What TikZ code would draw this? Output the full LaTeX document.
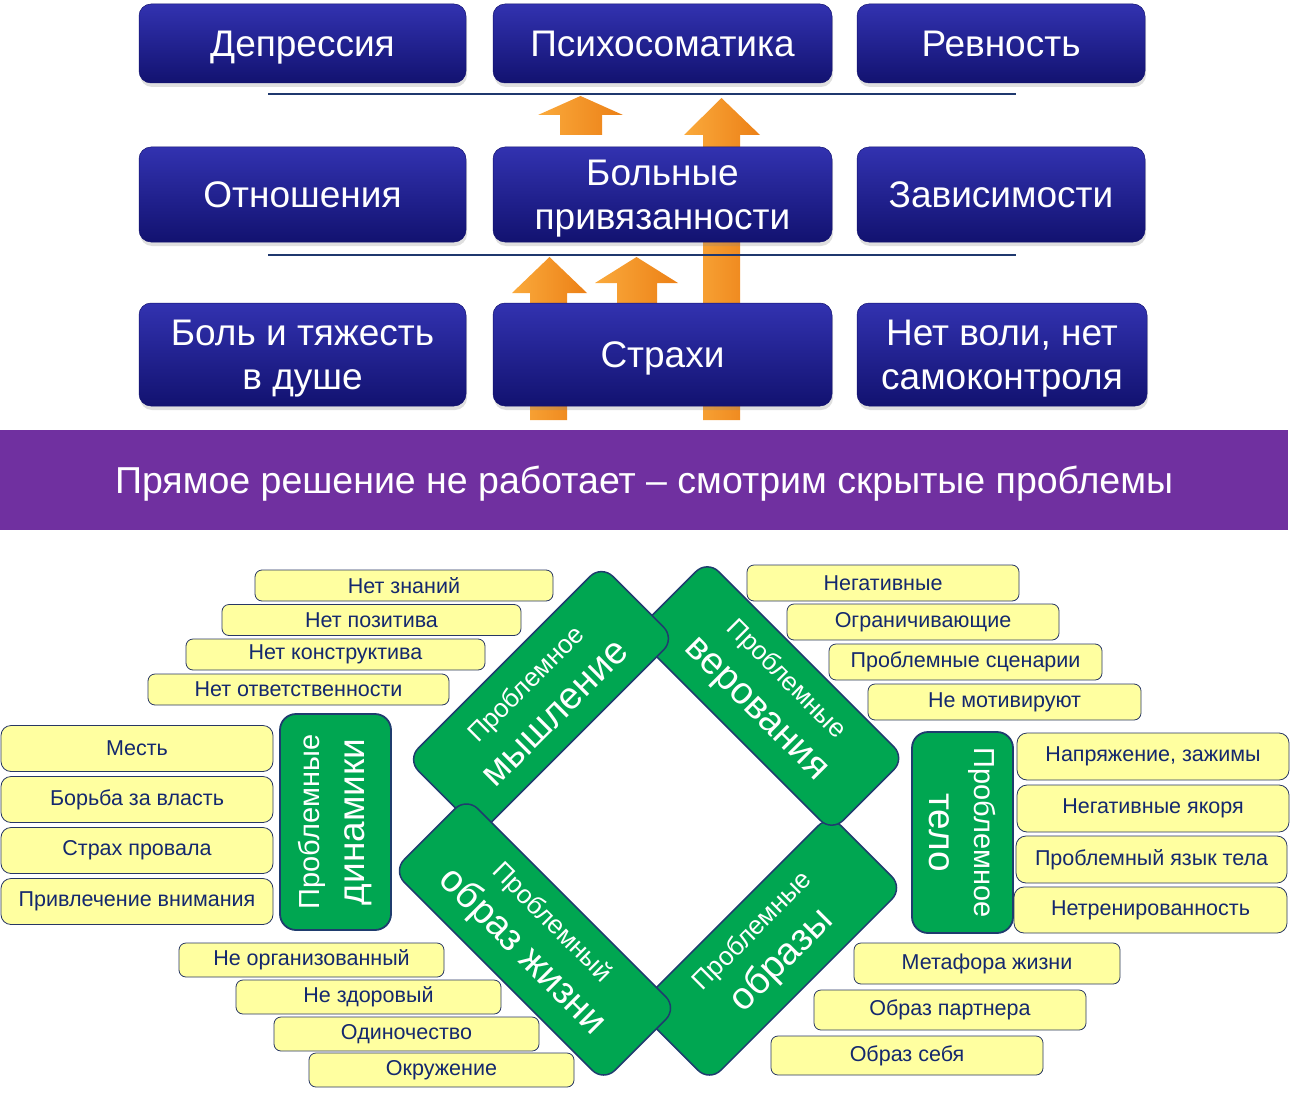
\documentclass[tikz,border=0pt]{standalone}
\usepackage{fontspec}
\setmainfont{Liberation Sans}
\usetikzlibrary{shadows}
\definecolor{bTop}{RGB}{50,50,176}
\definecolor{bBot}{RGB}{18,18,112}
\definecolor{navyline}{RGB}{31,56,110}
\definecolor{purp}{RGB}{112,48,160}
\definecolor{grn}{RGB}{0,166,81}
\definecolor{gbord}{RGB}{31,60,110}
\definecolor{yfill}{RGB}{255,255,160}
\definecolor{ybord}{RGB}{40,55,100}
\definecolor{ytext}{RGB}{20,40,110}
\definecolor{orL}{RGB}{250,170,60}
\definecolor{orR}{RGB}{236,128,22}
\begin{document}
\begin{tikzpicture}[x=1pt,y=-1pt,
  bluebox/.style={rounded corners=12pt, top color=bTop, bottom color=bBot, draw=bBot, line width=0.5pt,
    text=white, font=\fontsize{37pt}{44pt}\selectfont, align=center, inner sep=0pt, text depth=-2pt,
    drop shadow={shadow xshift=1pt, shadow yshift=-4pt, opacity=0.25}},
  ybox/.style={draw=ybord, fill=yfill, line width=0.8pt, rounded corners=7pt, text=ytext,
    font=\fontsize{21.5pt}{24pt}\selectfont, inner sep=0pt},
  gbox/.style={draw=gbord, fill=grn, line width=1.5pt, rounded corners=16pt, text=white,
    align=center, inner sep=0pt, font=\fontsize{38pt}{44pt}\selectfont},
  gvert/.style={draw=gbord, fill=grn, line width=1.8pt, rounded corners=16pt, text=white,
    align=center, inner sep=0pt, font=\fontsize{37pt}{45pt}\selectfont},
  sepline/.style={draw=navyline, line width=2pt},
  blockarrow/.style={left color=orL, right color=orR}
]
\useasboundingbox (0,0) rectangle (1290,1097);

% block arrows (behind the boxes)
\shade[blockarrow] (703,420) -- (703,135) -- (684,135) -- (721.5,98) -- (760,135) -- (740,135) -- (740,420) -- cycle;
\shade[blockarrow] (530,420) -- (530,293) -- (512,293) -- (549.5,257) -- (587,293) -- (567,293) -- (567,420) -- cycle;
\shade[blockarrow] (617,310) -- (617,283) -- (595,283) -- (636.5,257) -- (678,283) -- (657,283) -- (657,310) -- cycle;
\shade[blockarrow] (560,135) -- (560,115) -- (538,115) -- (580.5,96) -- (623,115) -- (602,115) -- (602,135) -- cycle;

% separator lines
\coordinate (s1a) at (268,94); \coordinate (s1b) at (1016,94);
\coordinate (s2a) at (268,255); \coordinate (s2b) at (1016,255);
\draw[sepline] (s1a) -- (s1b);
\draw[sepline] (s2a) -- (s2b);

% blue boxes
\node[bluebox, minimum width=327pt, minimum height=79pt] (dep) at (302.5,43.5) {Депрессия};
\node[bluebox, minimum width=339pt, minimum height=79pt] (psy) at (662.5,43.5) {Психосоматика};
\node[bluebox, minimum width=288pt, minimum height=79pt] (rev) at (1001,43.5) {Ревность};
\node[bluebox, minimum width=327pt, minimum height=95pt] (otn) at (302.5,194.5) {Отношения};
\node[bluebox, minimum width=339pt, minimum height=95pt] (bol) at (662.5,194.5) {Больные\\привязанности};
\node[bluebox, minimum width=288pt, minimum height=95pt] (zav) at (1001,194.5) {Зависимости};
\node[bluebox, minimum width=327pt, minimum height=103pt] (pain) at (302.5,354.5) {Боль и тяжесть\\в душе};
\node[bluebox, minimum width=339pt, minimum height=103pt] (fear) at (662.5,354.5) {Страхи};
\node[bluebox, minimum width=290pt, minimum height=103pt] (will) at (1002,354.5) {Нет воли, нет\\самоконтроля};

% purple band
\node[fill=purp, text=white, inner sep=0pt, minimum width=1288pt, minimum height=100pt, text depth=0pt,
  font=\fontsize{37.5pt}{40pt}\selectfont] (band) at (644,480) {Прямое решение не работает – смотрим скрытые проблемы};

% yellow boxes, left top
\node[ybox, minimum width=298pt, minimum height=31pt] (k1) at (404,585.5) {Нет знаний};
\node[ybox, minimum width=299pt, minimum height=31pt] (k2) at (371.5,620) {Нет позитива};
\node[ybox, minimum width=299pt, minimum height=31pt] (k3) at (335.5,654.5) {Нет конструктива};
\node[ybox, minimum width=301pt, minimum height=31pt] (k4) at (298.5,689.5) {Нет ответственности};
% left middle
\node[ybox, rounded corners=10pt, minimum width=272pt, minimum height=46pt] (d1) at (137,748.5) {Месть};
\node[ybox, rounded corners=10pt, minimum width=272pt, minimum height=46pt] (d2) at (137,799.5) {Борьба за власть};
\node[ybox, rounded corners=10pt, minimum width=272pt, minimum height=46pt] (d3) at (137,850.5) {Страх провала};
\node[ybox, rounded corners=10pt, minimum width=272pt, minimum height=46pt] (d4) at (137,901.5) {Привлечение внимания};
% left bottom
\node[ybox, minimum width=265pt, minimum height=34pt] (l1) at (311.5,960) {Не организованный};
\node[ybox, minimum width=265pt, minimum height=34pt] (l2) at (368.5,997) {Не здоровый};
\node[ybox, minimum width=265pt, minimum height=34pt] (l3) at (406.5,1034) {Одиночество};
\node[ybox, minimum width=265pt, minimum height=34pt] (l4) at (441.5,1070) {Окружение};
% right top
\node[ybox, minimum width=272pt, minimum height=36pt] (v1) at (883,583) {Негативные};
\node[ybox, minimum width=272pt, minimum height=36pt] (v2) at (923,622) {Ограничивающие};
\node[ybox, minimum width=273pt, minimum height=36pt] (v3) at (965.5,662) {Проблемные сценарии};
\node[ybox, minimum width=273pt, minimum height=36pt] (v4) at (1004.5,702) {Не мотивируют};
% right middle
\node[ybox, rounded corners=10pt, minimum width=272pt, minimum height=47pt] (t1) at (1153,756.5) {Напряжение, зажимы};
\node[ybox, rounded corners=10pt, minimum width=272pt, minimum height=47pt] (t2) at (1153,808.5) {Негативные якоря};
\node[ybox, rounded corners=10pt, minimum width=271pt, minimum height=47pt] (t3) at (1151.5,859.5) {Проблемный язык тела};
\node[ybox, rounded corners=10pt, minimum width=273pt, minimum height=46pt] (t4) at (1150.5,910) {Нетренированность};
% right bottom
\node[ybox, minimum width=266pt, minimum height=41pt] (m1) at (987,963.5) {Метафора жизни};
\node[ybox, minimum width=272pt, minimum height=40pt] (m2) at (950,1010) {Образ партнера};
\node[ybox, minimum width=272pt, minimum height=39pt] (m3) at (907,1055.5) {Образ себя};

% green boxes
\node[gbox, rotate=45, minimum width=274pt, minimum height=104pt] (obr) at (769.5,948)
  {{\fontsize{26pt}{30pt}\selectfont Проблемные}\\образы};
\node[gbox, rotate=-45, minimum width=280pt, minimum height=104pt] (ver) at (769.5,696)
  {{\fontsize{26pt}{30pt}\selectfont Проблемные}\\верования};
\node[gbox, rotate=45, minimum width=275pt, minimum height=104pt] (mysh) at (541,699)
  {{\fontsize{26pt}{30pt}\selectfont Проблемное}\\мышление};
\node[gbox, rotate=-45, minimum width=298pt, minimum height=104pt] (life) at (535,939.5)
  {{\fontsize{26pt}{30pt}\selectfont Проблемный}\\образ жизни};
\node[gvert, rotate=90, minimum width=216pt, minimum height=111pt] (dyn) at (335.5,822)
  {{\fontsize{29pt}{32pt}\selectfont Проблемные}\\динамики};
\node[gvert, rotate=-90, minimum width=201pt, minimum height=101pt] (body) at (962.5,832.5)
  {{\fontsize{29pt}{32pt}\selectfont Проблемное}\\тело};
\end{tikzpicture}
\end{document}
